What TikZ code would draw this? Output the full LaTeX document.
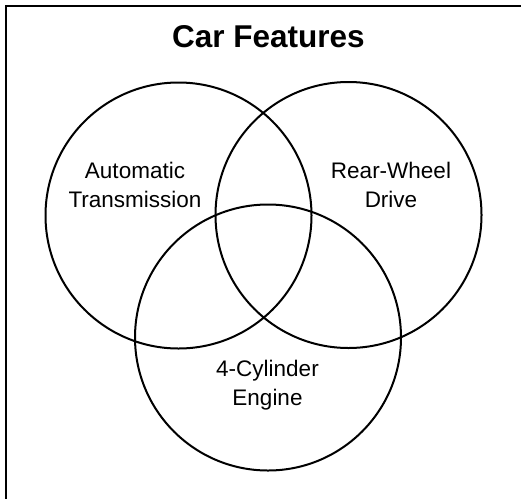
\documentclass[tikz,border=0pt]{standalone}
\usepackage{fontspec}
\setmainfont{Liberation Sans}
\usetikzlibrary{positioning}

\begin{document}
\begin{tikzpicture}[
    x=1pt, y=-1pt,
    ring/.style={draw, circle, line width=2pt, minimum size=266pt, inner sep=0pt},
    lbl/.style={align=center, font=\fontsize{22.5}{29.5}\selectfont},
]
    \clip (0,0) rectangle (521,498);
    \useasboundingbox (0,0) rectangle (521,498);
    \draw[line width=2pt] (6,6) rectangle (600,600);

    \node[font=\fontsize{31.5}{36}\selectfont\bfseries] (title) at (268.5,37) {Car Features};

    \node[ring] (auto) at (178.5,215.5) {};
    \node[ring] (rear) at (348.5,215) {};
    \node[ring] (cyl) at (268,337.5) {};

    \node[lbl] (autotext) at (135,185) {Automatic\\Transmission};
    \node[lbl] (reartext) at (391,185) {Rear-Wheel\\Drive};
    \node[lbl] (cyltext) at (267.5,385) {4-Cylinder\\Engine};
\end{tikzpicture}
\end{document}
